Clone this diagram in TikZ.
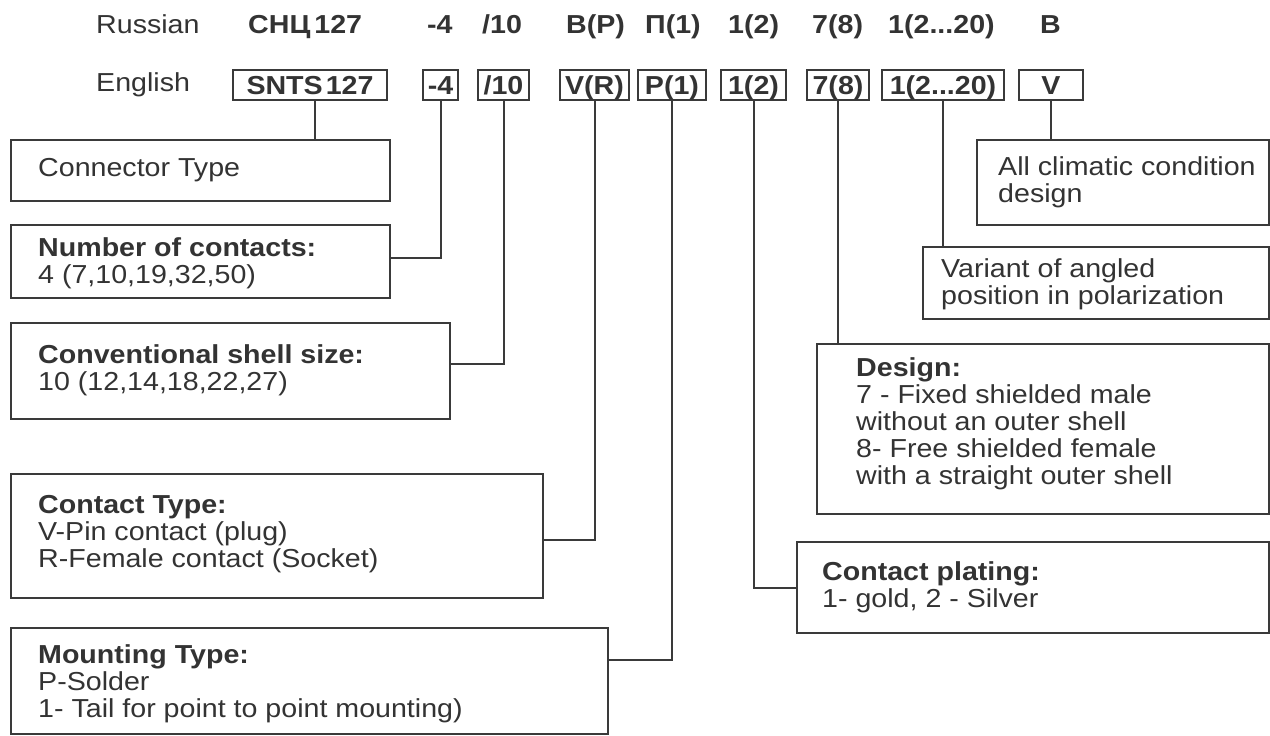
\documentclass[tikz,border=0pt]{standalone}
\usepackage{fontspec}
\setmainfont{Liberation Sans}[FakeStretch=1.1]
\definecolor{ink}{HTML}{333333}
\definecolor{lin}{HTML}{3A3A3A}
\newcommand\mlines[1]{\vtop{\baselineskip=27pt\lineskiplimit=-100pt\lineskip=0pt #1}}
\newcommand\lh[1]{\hbox{#1}}
\tikzset{
  txt/.style={anchor=base west, inner sep=0pt, text=ink, font=\fontsize{26}{27}\selectfont},
  btxt/.style={anchor=base west, inner sep=0pt, text=ink, font=\fontsize{26}{27}\selectfont\bfseries},
  dbox/.style={draw=lin, line width=2pt, anchor=north west, inner sep=0pt},
  cbox/.style={dbox, text=ink, font=\fontsize{26}{27}\selectfont\bfseries, text height=18.5pt, text depth=0pt, minimum height=30pt},
  wire/.style={draw=lin, line width=2pt}
}
\begin{document}
\begin{tikzpicture}[x=1pt,y=-1pt]
\fill[white] (0,0) rectangle (1270,736);
\useasboundingbox (0,0) rectangle (1270,736);

% top row (Russian)
\node[txt] (lru) at (96,34) {Russian};
\node[btxt] (r1) at (248,34) {СНЦ\kern4pt127};
\node[btxt] (r2) at (427,34) {-4};
\node[btxt] (r3) at (482,34) {/10};
\node[btxt] (r4) at (566,34) {В(Р)};
\node[btxt] (r5) at (645,34) {П(1)};
\node[btxt] (r6) at (728,34) {1(2)};
\node[btxt] (r7) at (812,34) {7(8)};
\node[btxt] (r8) at (888,34) {1(2...20)};
\node[btxt] (r9) at (1040,34) {В};

% English row
\node[txt] (len) at (96,91) {English};
\node[cbox, minimum width=154pt] (bsnts) at (232,69) {SNTS\kern3pt127};
\node[cbox, minimum width=35pt] (b4) at (422,69) {-4};
\node[cbox, minimum width=51pt] (b10) at (477,69) {/10};
\node[cbox, minimum width=69pt] (bvr) at (559,69) {V(R)};
\node[cbox, minimum width=68pt] (bp1) at (637,69) {P(1)};
\node[cbox, minimum width=65pt] (b12) at (720,69) {1(2)};
\node[cbox, minimum width=62pt] (b78) at (806,69) {7(8)};
\node[cbox, minimum width=122pt] (b120) at (881,69) {1(2...20)};
\node[cbox, minimum width=64pt] (bv) at (1018,69) {V};

% description boxes
\node[dbox, minimum width=379pt, minimum height=61pt] (conn) at (10,139) {};
\node[dbox, minimum width=379pt, minimum height=73pt] (ncont) at (10,224) {};
\node[dbox, minimum width=439pt, minimum height=96pt] (shell) at (10,322) {};
\node[dbox, minimum width=532pt, minimum height=124pt] (ctype) at (10,473) {};
\node[dbox, minimum width=597pt, minimum height=106pt] (mount) at (10,627) {};
\node[dbox, minimum width=292pt, minimum height=85pt] (clim) at (976,139) {};
\node[dbox, minimum width=346pt, minimum height=72pt] (variant) at (922,246) {};
\node[dbox, minimum width=452pt, minimum height=170pt] (design) at (816,343) {};
\node[dbox, minimum width=472pt, minimum height=91pt] (plating) at (796,541) {};

% texts
\node[txt] (tconn) at (38,176) {Connector Type};
\node[txt] (tncont) at (38,256) {\mlines{\lh{\bfseries Number of contacts:}\lh{4 (7,10,19,32,50)}}};
\node[txt] (tshell) at (38,363) {\mlines{\lh{\bfseries Conventional shell size:}\lh{10 (12,14,18,22,27)}}};
\node[txt] (tctype) at (38,513) {\mlines{\lh{\bfseries Contact Type:}\lh{V-Pin contact (plug)}\lh{R-Female contact (Socket)}}};
\node[txt] (tmount) at (38,663) {\mlines{\lh{\bfseries Mounting Type:}\lh{P-Solder}\lh{1- Tail for point to point mounting)}}};
\node[txt] (tclim) at (998,175) {\mlines{\lh{All climatic condition}\lh{design}}};
\node[txt] (tvariant) at (941,277) {\mlines{\lh{Variant of angled}\lh{position in polarization}}};
\node[txt] (tdesign) at (856,376) {\mlines{\lh{\bfseries Design:}\lh{7 - Fixed shielded male}\lh{without an outer shell}\lh{8- Free shielded female}\lh{with a straight outer shell}}};
\node[txt] (tplating) at (822,580) {\mlines{\lh{\bfseries Contact plating:}\lh{1- gold, 2 - Silver}}};

% connectors
\coordinate (snts_s) at ([xshift=5pt]bsnts.south);
\draw[wire] (snts_s) -- (snts_s |- conn.north);
\draw[wire] (b4.south) |- ([yshift=3.5pt]ncont.east);
\draw[wire] (b10.south) |- ([yshift=7pt]shell.east);
\draw[wire] (bvr.south) |- ([yshift=-4pt]ctype.east);
\draw[wire] (bp1.south) |- ([yshift=21pt]mount.east);
\draw[wire] (b12.south) |- (plating.west);
\draw[wire] (b78.south) -- (b78.south |- design.north);
\draw[wire] (b120.south) -- (b120.south |- variant.north);
\draw[wire] (bv.south) -- (bv.south |- clim.north);
\end{tikzpicture}
\end{document}
